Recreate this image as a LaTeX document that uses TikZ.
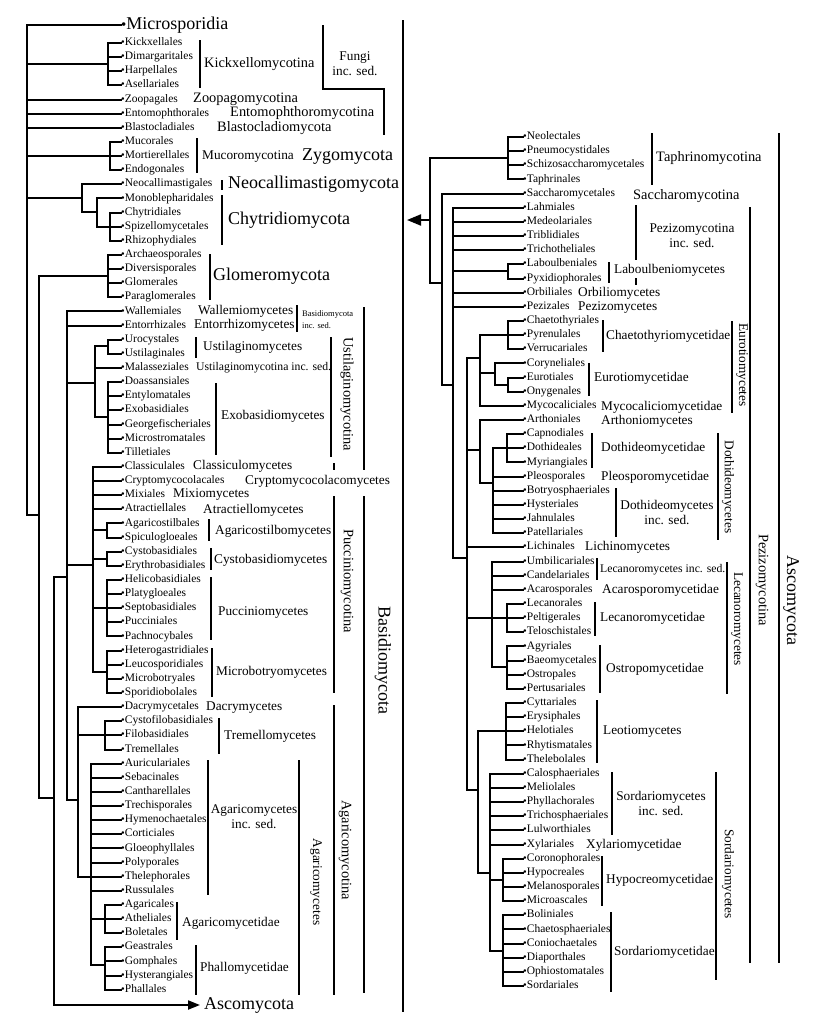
\documentclass[tikz,border=0pt]{standalone}
\usepackage{fontspec}
\setmainfont{Liberation Serif}
\usetikzlibrary{arrows.meta}

\newcommand\lf{{\fontsize{10.5}{10}\selectfont •}}

\tikzset{
  tree/.style={line width=2pt,line cap=rect},
  brk/.style={line width=1.4pt},
  leaf/.style={anchor=west,inner sep=0pt,font=\fontsize{11.5}{12}\selectfont,text height=7.6pt,text depth=2.4pt},
  cls/.style={anchor=west,inner sep=0pt,font=\fontsize{13.3}{14}\selectfont,text height=8.8pt,text depth=2.8pt},
  sub/.style={cls,font=\fontsize{14.4}{15}\selectfont,text height=9.5pt,text depth=3pt},
  big/.style={cls,font=\fontsize{18}{19}\selectfont,text height=11.9pt,text depth=3.8pt},
  isd/.style={cls,font=\fontsize{11.7}{12}\selectfont,text height=7.7pt,text depth=2.5pt},
  two/.style={inner sep=0pt,align=center,font=\fontsize{13.3}{15}\selectfont},
  vert/.style={inner sep=0pt,rotate=-90,font=\fontsize{14.4}{15}\selectfont},
  vsm/.style={vert,font=\fontsize{13.3}{14}\selectfont},
  vbig/.style={vert,font=\fontsize{18}{19}\selectfont},
}

\begin{document}
\begin{tikzpicture}[x=1pt,y=-1pt]
\useasboundingbox (0,0) rectangle (814,1031);

% Left column: leaves.
\node[big] (micro) at (121,25) {{\fontsize{15}{15}\selectfont •}Microsporidia};
\foreach \nm [count=\i from 0] in {Kickxellales,Dimargaritales,Harpellales,Asellariales,
  Zoopagales,Entomophthorales,Blastocladiales,Mucorales,Mortierellales,Endogonales,
  Neocallimastigales,Monoblepharidales,Chytridiales,Spizellomycetales,Rhizophydiales,
  Archaeosporales,Diversisporales,Glomerales,Paraglomerales,Wallemiales,Entorrhizales,
  Urocystales,Ustilaginales,Malasseziales,Doassansiales,Entylomatales,Exobasidiales,
  Georgefischeriales,Microstromatales,Tilletiales,Classiculales,Cryptomycocolacales,
  Mixiales,Atractiellales,Agaricostilbales,Spiculogloeales,Cystobasidiales,
  Erythrobasidiales,Helicobasidiales,Platygloeales,Septobasidiales,Pucciniales,
  Pachnocybales,Heterogastridiales,Leucosporidiales,Microbotryales,Sporidiobolales,
  Dacrymycetales,Cystofilobasidiales,Filobasidiales,Tremellales,Auriculariales,
  Sebacinales,Cantharellales,Trechisporales,Hymenochaetales,Corticiales,Gloeophyllales,
  Polyporales,Thelephorales,Russulales,Agaricales,Atheliales,Boletales,Geastrales,
  Gomphales,Hysterangiales,Phallales}
  \node[leaf] (L\i) at (121,{43+14.13*\i}) {\lf\nm};
\node[big] (asco) at (204,1005) {Ascomycota};

% Left column: branch points.
\coordinate (fungi) at (27,25);
\coordinate (kick) at (108,64);
\coordinate (muco) at (110,156);
\coordinate (chyt1) at (82,198);
\coordinate (chyt2) at (97,212);
\coordinate (chyt3) at (110,227);
\coordinate (glomdik) at (39,515);
\coordinate (glom) at (108,276);
\coordinate (dik) at (54,798);
\coordinate (basid) at (67,577);
\coordinate (ustil) at (95,383);
\coordinate (ustm) at (108,346);
\coordinate (exob) at (108,417);
\coordinate (pucc) at (93,565);
\coordinate (agst) at (107,530);
\coordinate (cyst) at (107,559);
\coordinate (pucm) at (107,608);
\coordinate (mbot) at (107,672);
\coordinate (agmc) at (78,800);
\coordinate (trem) at (105,735);
\coordinate (agcs) at (91,877);
\coordinate (agcd) at (105,919);
\coordinate (phal) at (105,965);

\foreach \c in {micro.west,kick,L4.west,L5.west,L6.west,muco,chyt1,glomdik}
  \draw[tree] (fungi) |- (\c);
\foreach \c in {0,...,3} \draw[tree] (kick) |- (L\c.west);
\foreach \c in {7,8,9} \draw[tree] (muco) |- (L\c.west);
\foreach \c in {L10.west,chyt2} \draw[tree] (chyt1) |- (\c);
\foreach \c in {L11.west,chyt3} \draw[tree] (chyt2) |- (\c);
\foreach \c in {12,13,14} \draw[tree] (chyt3) |- (L\c.west);
\foreach \c in {glom,dik} \draw[tree] (glomdik) |- (\c);
\foreach \c in {15,...,18} \draw[tree] (glom) |- (L\c.west);
\draw[tree] (dik) |- (basid);
\draw[tree,-{Triangle[length=12pt,width=9pt]},shorten >=4pt] (dik) |- (asco.west);
\foreach \c in {L19.west,L20.west,ustil,pucc,agmc} \draw[tree] (basid) |- (\c);
\foreach \c in {ustm,L23.west,exob} \draw[tree] (ustil) |- (\c);
\foreach \c in {21,22} \draw[tree] (ustm) |- (L\c.west);
\foreach \c in {24,...,29} \draw[tree] (exob) |- (L\c.west);
\foreach \c in {L30.west,L31.west,L32.west,L33.west,agst,cyst,pucm,mbot}
  \draw[tree] (pucc) |- (\c);
\foreach \c in {34,35} \draw[tree] (agst) |- (L\c.west);
\foreach \c in {36,37} \draw[tree] (cyst) |- (L\c.west);
\foreach \c in {38,...,42} \draw[tree] (pucm) |- (L\c.west);
\foreach \c in {43,...,46} \draw[tree] (mbot) |- (L\c.west);
\foreach \c in {L47.west,trem,agcs} \draw[tree] (agmc) |- (\c);
\foreach \c in {48,49,50} \draw[tree] (trem) |- (L\c.west);
\foreach \c in {51,...,60} \draw[tree] (agcs) |- (L\c.west);
\foreach \c in {agcd,phal} \draw[tree] (agcs) |- (\c);
\foreach \c in {61,62,63} \draw[tree] (agcd) |- (L\c.west);
\foreach \c in {64,...,67} \draw[tree] (phal) |- (L\c.west);

% Left column: groups.
\draw[brk] (200,40) -- (200,88);
\node[sub] at (204,64) {Kickxellomycotina};
\draw[brk] (323,25) -- (323,89) -- (384,89) -- (384,135);
\node[two] at (355,64) {Fungi\\inc. sed.};
\node[sub] at (193,99) {Zoopagomycotina};
\node[sub] at (230,113) {Entomophthoromycotina};
\node[sub] at (217,128) {Blastocladiomycota};
\draw[brk] (197,138) -- (197,173);
\node[cls] at (202,156) {Mucoromycotina};
\node[big] at (302,156) {Zygomycota};
\draw[brk] (222,180) -- (222,190);
\node[big] at (228,184) {Neocallimastigomycota};
\draw[brk] (222,195) -- (222,245);
\node[big] at (228,220) {Chytridiomycota};
\draw[brk] (210,254) -- (210,300);
\node[big] at (213,276) {Glomeromycota};
\node[cls] at (198,311) {Wallemiomycetes};
\node[cls] at (194,325) {Entorrhizomycetes};
\draw[brk] (297,305) -- (297,332);
\node[inner sep=0pt,anchor=west,align=left,font=\fontsize{8.5}{12}\selectfont] at (302,320) {Basidiomycota\\inc. sed.};
\draw[brk] (196,337) -- (196,358);
\node[cls] at (203,347) {Ustilaginomycetes};
\node[isd] at (196,368) {Ustilaginomycotina inc. sed.};
\draw[brk] (216,383) -- (216,455);
\node[cls] at (221,416) {Exobasidiomycetes};
\node[cls] at (193,466) {Classiculomycetes};
\node[cls] at (245,481) {Cryptomycocolacomycetes};
\node[cls] at (173,494) {Mixiomycetes};
\node[cls] at (203,510) {Atractiellomycetes};
\draw[brk] (209,519) -- (209,541);
\node[cls] at (215,531) {Agaricostilbomycetes};
\draw[brk] (211,548) -- (211,570);
\node[cls] at (214,560) {Cystobasidiomycetes};
\draw[brk] (211,577) -- (211,640);
\node[cls] at (218,612) {Pucciniomycetes};
\draw[brk] (212,648) -- (212,697);
\node[cls] at (216,672) {Microbotryomycetes};
\node[cls] at (206,707) {Dacrymycetes};
\draw[brk] (219,718) -- (219,754);
\node[cls] at (224,736) {Tremellomycetes};
\draw[brk] (208,760) -- (208,895);
\node[two] at (254,817) {Agaricomycetes\\inc. sed.};
\draw[brk] (177,902) -- (177,940);
\node[cls] at (182,923) {Agaricomycetidae};
\draw[brk] (196,945) -- (196,995);
\node[cls] at (200,968) {Phallomycetidae};
\draw[brk] (331,337) -- (331,457);
\node[vert] at (347,394) {Ustilaginomycotina};
\draw[brk] (334,463) -- (334,470) (334,496) -- (334,693);
\node[vert] at (347,581) {Pucciniomycotina};
\draw[brk] (299,760) -- (299,995);
\node[vsm] at (316,882) {Agaricomycetes};
\draw[brk] (334,705) -- (334,995);
\node[vert] at (345,850) {Agaricomycotina};
\draw[brk] (364,307) -- (364,470) (364,496) -- (364,993);
\node[vbig] at (383,660) {Basidiomycota};

% Divider.
\draw[brk] (403,20) -- (403,1012);

% Right column: leaves.
\foreach \nm [count=\i from 0] in {Neolectales,Pneumocystidales,Schizosaccharomycetales,
  Taphrinales,Saccharomycetales,Lahmiales,Medeolariales,Triblidiales,Trichotheliales,
  Laboulbeniales,Pyxidiophorales,Orbiliales,Pezizales,Chaetothyriales,Pyrenulales,
  Verrucariales,Coryneliales,Eurotiales,Onygenales,Mycocaliciales,Arthoniales,
  Capnodiales,Dothideales,Myriangiales,Pleosporales,Botryosphaeriales,Hysteriales,
  Jahnulales,Patellariales,Lichinales,Umbilicariales,Candelariales,Acarosporales,
  Lecanorales,Peltigerales,Teloschistales,Agyriales,Baeomycetales,Ostropales,
  Pertusariales,Cyttariales,Erysiphales,Helotiales,Rhytismatales,Thelebolales,
  Calosphaeriales,Meliolales,Phyllachorales,Trichosphaeriales,Lulworthiales,Xylariales,
  Coronophorales,Hypocreales,Melanosporales,Microascales,Boliniales,Chaetosphaeriales,
  Coniochaetales,Diaporthales,Ophiostomatales,Sordariales}
  \node[leaf] (R\i) at (523,{137+14.15*\i}) {\lf\nm};

% Right column: branch points.
\coordinate (ascroot) at (430,220);
\coordinate (ascin) at (407,220);
\coordinate (taph) at (508,158);
\coordinate (sacpez) at (442,283);
\coordinate (pezi) at (453,385);
\coordinate (labo) at (508,271);
\coordinate (leoc) at (467,558);
\coordinate (euro) at (480,358);
\coordinate (chae) at (508,335);
\coordinate (eurd) at (495,373);
\coordinate (eurd2) at (508,385);
\coordinate (arth) at (480,450);
\coordinate (doth) at (493,483);
\coordinate (dotd) at (507,448);
\coordinate (lecn) at (492,618);
\coordinate (lecd) at (507,618);
\coordinate (ostr) at (507,667);
\coordinate (leso) at (478,790);
\coordinate (leot) at (506,731);
\coordinate (sord) at (490,873);
\coordinate (hypo) at (503,880);
\coordinate (sodd) at (503,951);

\draw[tree,-{Triangle[length=14pt,width=11pt]}] (ascroot) -- (ascin);
\foreach \c in {taph,sacpez} \draw[tree] (ascroot) |- (\c);
\foreach \c in {0,...,3} \draw[tree] (taph) |- (R\c.west);
\foreach \c in {R4.west,pezi} \draw[tree] (sacpez) |- (\c);
\foreach \c in {R5.west,R6.west,R7.west,R8.west,labo,R11.west,R12.west,leoc}
  \draw[tree] (pezi) |- (\c);
\foreach \c in {9,10} \draw[tree] (labo) |- (R\c.west);
\foreach \c in {euro,arth,R29.west,lecn,leso} \draw[tree] (leoc) |- (\c);
\foreach \c in {chae,eurd,R19.west} \draw[tree] (euro) |- (\c);
\foreach \c in {13,14,15} \draw[tree] (chae) |- (R\c.west);
\foreach \c in {R16.west,eurd2} \draw[tree] (eurd) |- (\c);
\foreach \c in {17,18} \draw[tree] (eurd2) |- (R\c.west);
\foreach \c in {R20.west,doth} \draw[tree] (arth) |- (\c);
\foreach \c in {dotd,R24.west,R25.west,R26.west,R27.west,R28.west} \draw[tree] (doth) |- (\c);
\foreach \c in {21,22,23} \draw[tree] (dotd) |- (R\c.west);
\foreach \c in {R30.west,R31.west,R32.west,lecd,ostr} \draw[tree] (lecn) |- (\c);
\foreach \c in {33,34,35} \draw[tree] (lecd) |- (R\c.west);
\foreach \c in {36,...,39} \draw[tree] (ostr) |- (R\c.west);
\foreach \c in {leot,sord} \draw[tree] (leso) |- (\c);
\foreach \c in {40,...,44} \draw[tree] (leot) |- (R\c.west);
\foreach \c in {R45.west,R46.west,R47.west,R48.west,R49.west,R50.west,hypo,sodd}
  \draw[tree] (sord) |- (\c);
\foreach \c in {51,...,54} \draw[tree] (hypo) |- (R\c.west);
\foreach \c in {55,...,60} \draw[tree] (sodd) |- (R\c.west);

% Right column: groups.
\draw[brk] (652,133) -- (652,185);
\node[sub] at (656,158) {Taphrinomycotina};
\node[sub] at (633,196) {Saccharomycotina};
\draw[brk] (636,205) -- (636,260) (636,278) -- (636,285);
\node[two] at (692,236) {Pezizomycotina\\inc. sed.};
\draw[brk] (609,262) -- (609,283);
\node[cls] at (614,270) {Laboulbeniomycetes};
\node[cls] at (578,293) {Orbiliomycetes};
\node[cls] at (578,307) {Pezizomycetes};
\draw[brk] (603,320) -- (603,352);
\node[cls] at (606,336) {Chaetothyriomycetidae};
\draw[brk] (589,363) -- (589,396);
\node[cls] at (594,378) {Eurotiomycetidae};
\node[cls] at (601,407) {Mycocaliciomycetidae};
\draw[brk] (732,321) -- (732,413);
\node[vsm] at (742,365) {Eurotiomycetes};
\node[cls] at (601,421) {Arthoniomycetes};
\draw[brk] (592,433) -- (592,468);
\node[cls] at (601,448) {Dothideomycetidae};
\node[cls] at (601,477) {Pleosporomycetidae};
\draw[brk] (616,488) -- (616,537);
\node[two] at (667,512) {Dothideomycetes\\inc. sed.};
\draw[brk] (718,433) -- (718,540);
\node[vsm] at (728,487) {Dothideomycetes};
\node[cls] at (585,547) {Lichinomycetes};
\draw[brk] (597,558) -- (597,580);
\node[isd] at (600,570) {Lecanoromycetes inc. sed.};
\node[cls] at (602,590) {Acarosporomycetidae};
\draw[brk] (595,602) -- (595,636);
\node[cls] at (600,618) {Lecanoromycetidae};
\draw[brk] (600,645) -- (600,693);
\node[cls] at (606,669) {Ostropomycetidae};
\draw[brk] (727,562) -- (727,694);
\node[vsm] at (737,619) {Lecanoromycetes};
\draw[brk] (597,700) -- (597,763);
\node[cls] at (603,731) {Leotiomycetes};
\draw[brk] (612,772) -- (612,835);
\node[two] at (661,803) {Sordariomycetes\\inc. sed.};
\node[cls] at (586,845) {Xylariomycetidae};
\draw[brk] (602,856) -- (602,906);
\node[cls] at (606,880) {Hypocreomycetidae};
\draw[brk] (611,912) -- (611,992);
\node[cls] at (614,952) {Sordariomycetidae};
\draw[brk] (716,772) -- (716,980);
\node[vsm] at (728,874) {Sordariomycetes};
\draw[brk] (750,207) -- (750,963);
\node[vert] at (762,580) {Pezizomycotina};
\draw[brk] (779,133) -- (779,963);
\node[vbig] at (791,600) {Ascomycota};
\end{tikzpicture}
\end{document}
